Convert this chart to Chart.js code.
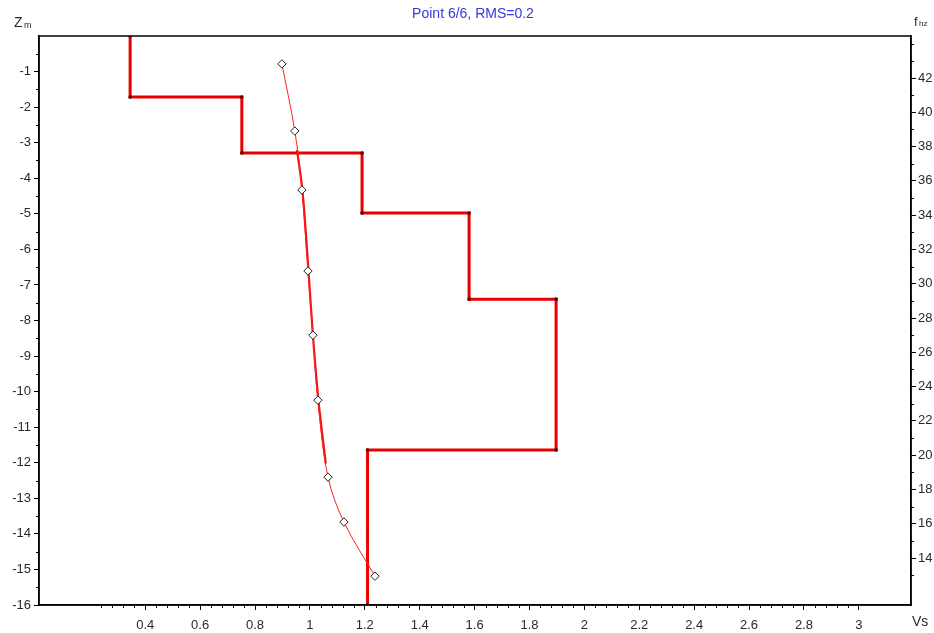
<!DOCTYPE html>
<html><head><meta charset="utf-8">
<script src="https://cdn.jsdelivr.net/npm/chart.js@4.4.1/dist/chart.umd.min.js"></script>
<style>html,body{margin:0;padding:0;background:#fff}canvas{display:block}</style>
</head><body>
<canvas id="c" width="934" height="633"></canvas>
<script>
// ---- data ----
const layerVs = [0.345, 0.752, 1.19, 1.58, 1.897, 1.21];
const layerBottom = [-1.715, -3.29, -4.98, -7.40, -11.64, -16];
const obsVs = [0.898, 0.945, 0.971, 0.993, 1.011, 1.029, 1.066, 1.124, 1.237];
const obsFreq = [42.82, 38.91, 35.47, 30.74, 27.0, 23.21, 18.72, 16.10, 12.94];
const theoVs = [0.953, 0.973, 0.995, 1.011, 1.031, 1.058];
const theoFreq = [37.8, 35.4, 30.7, 27.0, 23.2, 19.5];
const depthTicks = [-1,-2,-3,-4,-5,-6,-7,-8,-9,-10,-11,-12,-13,-14,-15,-16];
const freqTicks = [14,16,18,20,22,24,26,28,30,32,34,36,38,40,42];
const vsTicks = [0.4,0.6,0.8,1,1.2,1.4,1.6,1.8,2,2.2,2.4,2.6,2.8,3];
const titleText = 'Point 6/6, RMS=0.2';

// build chart tables from the arrays
const profile = [{x: layerVs[0], y: 0}];
layerVs.forEach((v, i) => {
  profile.push({x: v, y: layerBottom[i]});
  if (i + 1 < layerVs.length) profile.push({x: layerVs[i + 1], y: layerBottom[i]});
});
const observed = obsVs.map((v, i) => ({x: v, y: obsFreq[i]}));
const theory = theoVs.map((v, i) => ({x: v, y: theoFreq[i]}));

const FONT = '"Liberation Sans", Arial, sans-serif';
const LABEL = '#2a2a2a';

function minorList(from, to, step, majors) {
  const out = [];
  for (let k = 0; ; k++) {
    const v = +(from + k * step).toFixed(4);
    if (v > to + 1e-9) break;
    if (!majors.some(m => Math.abs(m - v) < 1e-6)) out.push(v);
  }
  return out;
}
const minorX = minorList(0.24, 3.0, 0.04, vsTicks);
const minorY = minorList(-15.5, -0.5, 0.5, depthTicks);
const minorY2 = minorList(13, 44, 1, freqTicks);

const deco = {
  id: 'deco',
  afterDraw(chart) {
    const ctx = chart.ctx, a = chart.chartArea;
    const sx = chart.scales.x, sy = chart.scales.y, sy2 = chart.scales.y2;
    ctx.save();
    ctx.strokeStyle = '#000';
    ctx.lineWidth = 1;
    ctx.beginPath();
    minorX.forEach(v => { const p = Math.round(sx.getPixelForValue(v)) + 0.5; ctx.moveTo(p, a.bottom); ctx.lineTo(p, a.bottom + 3); });
    minorY.forEach(v => { const p = Math.round(sy.getPixelForValue(v)) + 0.5; ctx.moveTo(a.left, p); ctx.lineTo(a.left - 3, p); });
    minorY2.forEach(v => { const p = Math.round(sy2.getPixelForValue(v)) + 0.5; ctx.moveTo(a.right, p); ctx.lineTo(a.right + 3, p); });
    ctx.stroke();
    // frame
    ctx.lineWidth = 1.5;
    ctx.strokeRect(a.left, a.top, a.right - a.left, a.bottom - a.top);
    // title
    ctx.fillStyle = '#3535e0';
    ctx.font = '14px ' + FONT;
    ctx.textAlign = 'center';
    ctx.textBaseline = 'middle';
    ctx.fillText(titleText, 473, 14);
    // axis names
    ctx.fillStyle = LABEL;
    ctx.textAlign = 'left';
    ctx.textBaseline = 'alphabetic';
    ctx.font = '14px ' + FONT;
    ctx.fillText('Z', 14, 27);
    ctx.font = '9px ' + FONT;
    ctx.fillText('m', 24, 28);
    ctx.font = '13px ' + FONT;
    ctx.fillText('f', 914, 26);
    ctx.font = '8px ' + FONT;
    ctx.fillText('hz', 919, 26);
    ctx.font = '14px ' + FONT;
    ctx.fillText('Vs', 912, 626);
    ctx.restore();
  }
};

new Chart(document.getElementById('c'), {
  type: 'scatter',
  data: {
    datasets: [
      {
        data: observed, yAxisID: 'y2', showLine: true, tension: 0.35,
        borderColor: '#ff2020', borderWidth: 1,
        pointStyle: 'rectRot', pointRadius: 4.2, pointBackgroundColor: '#fff',
        pointBorderColor: '#222', pointBorderWidth: 1, order: 1
      },
      {
        data: theory, yAxisID: 'y2', showLine: true, tension: 0.35,
        borderColor: '#ee1010', borderWidth: 2.2, pointRadius: 0, order: 2
      },
      {
        data: profile, yAxisID: 'y', showLine: true, tension: 0,
        borderColor: '#e80000', borderWidth: 3,
        pointRadius: 1.8, pointBackgroundColor: '#500', pointBorderWidth: 0, order: 3
      }
    ]
  },
  options: {
    responsive: false, animation: false, devicePixelRatio: 1,
    layout: {padding: {top: 36, left: 0, right: 0, bottom: 0}},
    plugins: {legend: {display: false}, tooltip: {enabled: false}, title: {display: false}},
    scales: {
      x: {
        type: 'linear', position: 'bottom', min: 0.013, max: 3.19,
        afterBuildTicks: s => { s.ticks = vsTicks.map(v => ({value: v})); },
        afterFit: s => { s.height = 28; },
        grid: {drawOnChartArea: false, drawTicks: true, tickLength: 5, color: '#000'},
        border: {display: true, color: '#000', width: 1.5},
        ticks: {color: LABEL, font: {family: FONT, size: 13}, padding: 8, maxRotation: 0, autoSkip: false,
          callback: v => String(+v.toFixed(1))}
      },
      y: {
        type: 'linear', position: 'left', min: -16, max: 0,
        afterBuildTicks: s => { s.ticks = depthTicks.map(v => ({value: v})); },
        afterFit: s => { s.width = 39; },
        grid: {drawOnChartArea: false, drawTicks: true, tickLength: 5, color: '#000'},
        border: {display: true, color: '#000', width: 1.5},
        ticks: {color: LABEL, font: {family: FONT, size: 13}, padding: 3, autoSkip: false,
          callback: v => String(v)}
      },
      y2: {
        type: 'linear', position: 'right', min: 11.26, max: 44.45,
        afterBuildTicks: s => { s.ticks = freqTicks.map(v => ({value: v})); },
        afterFit: s => { s.width = 23; },
        grid: {drawOnChartArea: false, drawTicks: true, tickLength: 5, color: '#000'},
        border: {display: true, color: '#000', width: 1.5},
        ticks: {color: LABEL, font: {family: FONT, size: 13}, padding: 2, autoSkip: false,
          callback: v => String(v)}
      }
    }
  },
  plugins: [deco]
});
</script>
</body></html>
